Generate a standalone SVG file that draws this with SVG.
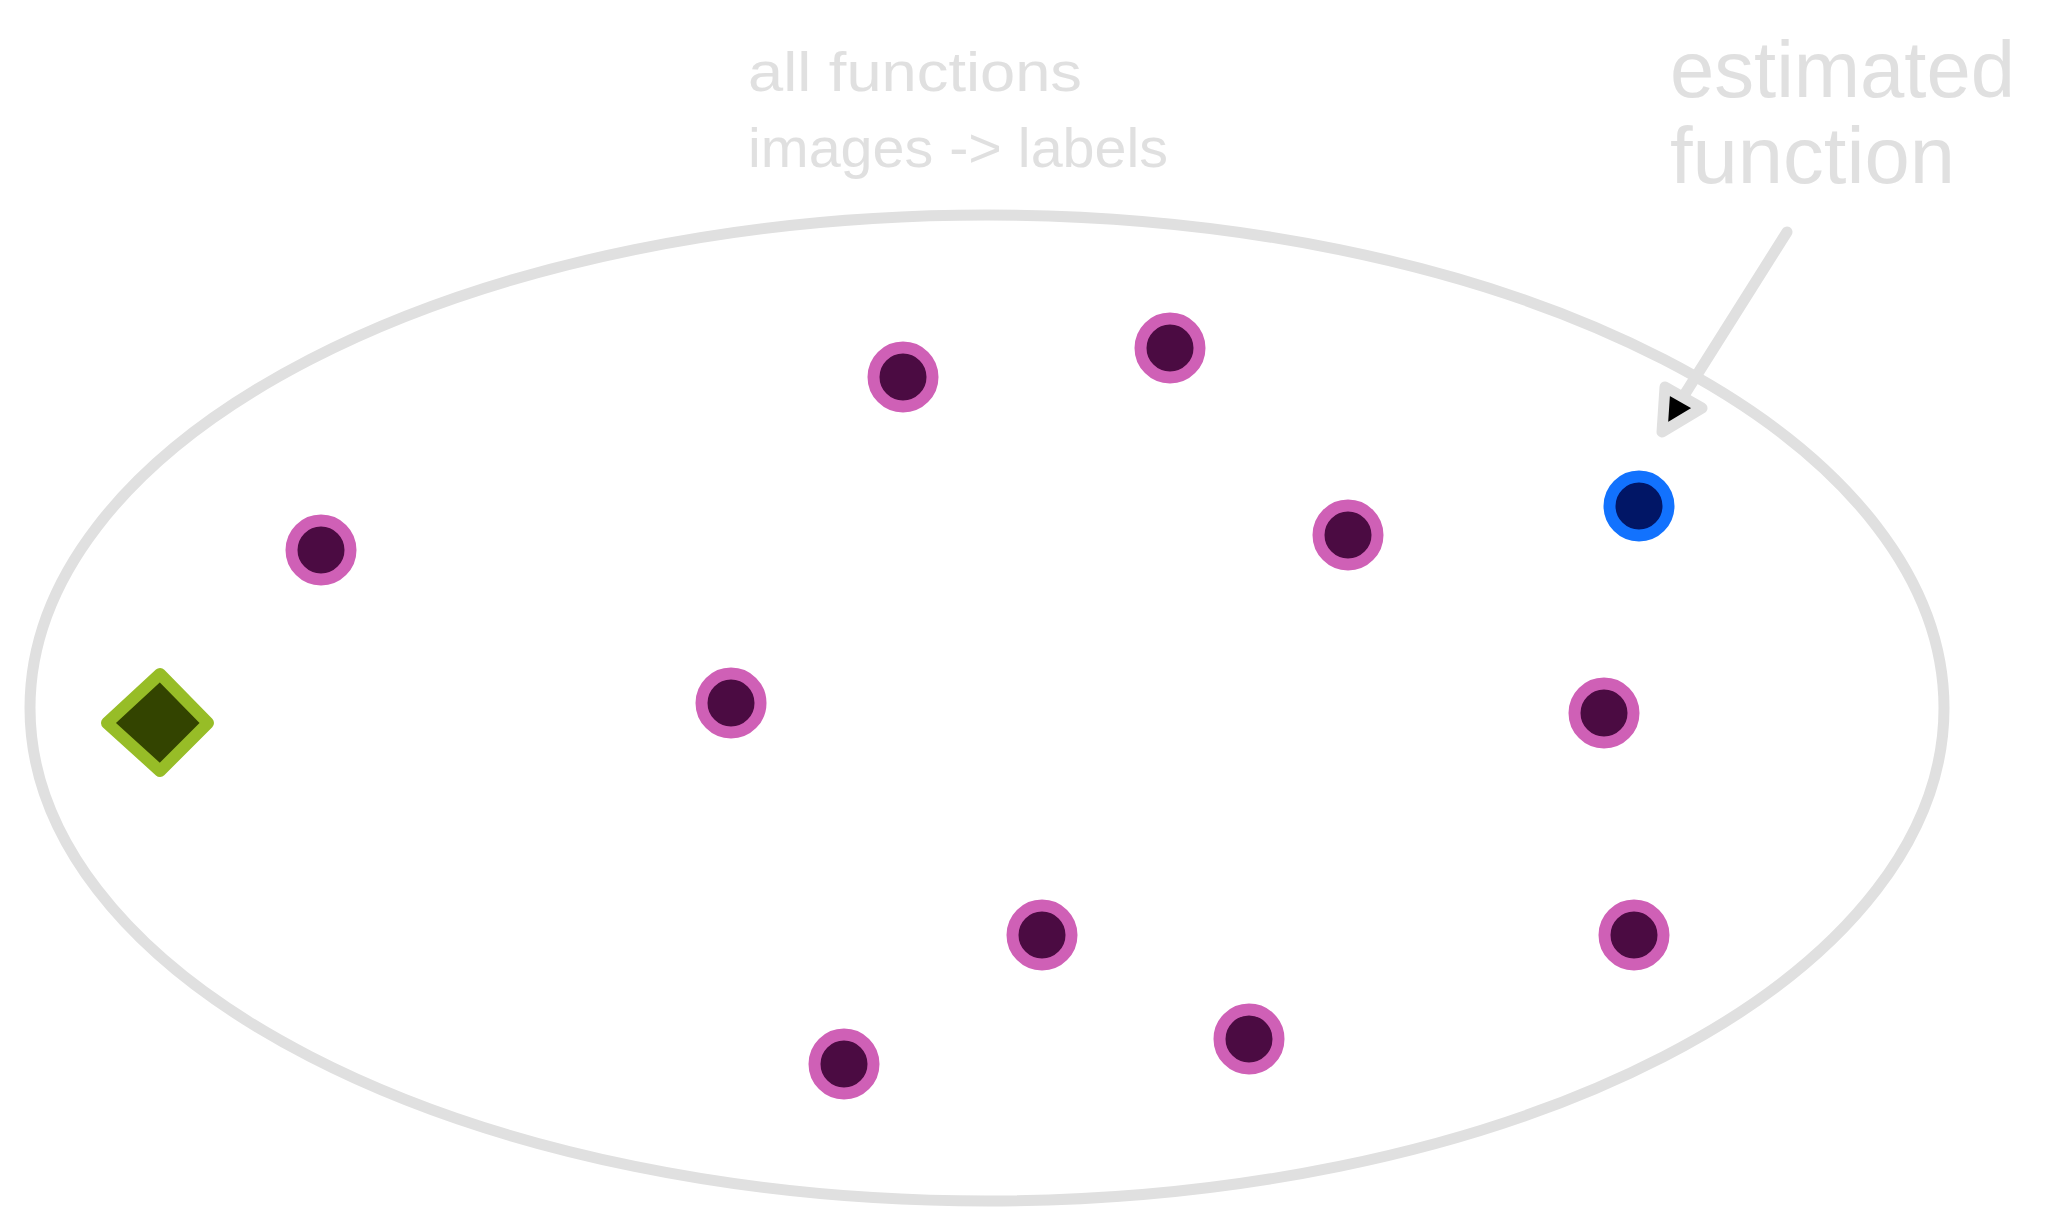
<svg xmlns="http://www.w3.org/2000/svg" width="2046" height="1232" viewBox="0 0 2046 1232">
<style>
.lbl{font-family:"Liberation Sans","DejaVu Sans",sans-serif;fill:#e0e0e0}
.pt{fill:#4b0b42;stroke:#cf60b6;stroke-width:12}
.est{fill:#011666;stroke:#1272fe;stroke-width:12}
.gray{fill:none;stroke:#e0e0e0;stroke-width:11;stroke-linecap:round;stroke-linejoin:round}
</style>
<rect width="2046" height="1232" fill="#ffffff"/>
<g id="space">
<ellipse cx="987" cy="708" rx="957" ry="493" class="gray"/>
</g>
<g id="label-all">
<text class="lbl" x="748" y="91" font-size="56" textLength="334" lengthAdjust="spacingAndGlyphs">all functions</text>
<text class="lbl" x="748" y="167" font-size="56" textLength="420" lengthAdjust="spacingAndGlyphs">images -&gt; labels</text>
</g>
<g id="label-estimated">
<text class="lbl" x="1670" y="97" font-size="80" textLength="345" lengthAdjust="spacingAndGlyphs">estimated</text>
<text class="lbl" x="1670" y="183" font-size="80" textLength="285" lengthAdjust="spacingAndGlyphs">function</text>
</g>
<g id="target">
<path d="M160 674 L208 723 L160 771 L107 723 Z" fill="#334400" stroke="#97bd27" stroke-width="12" stroke-linejoin="round"/>
</g>
<g id="p1"><circle cx="903" cy="377" r="29.5" class="pt"/></g>
<g id="p2"><circle cx="1170" cy="348" r="29.5" class="pt"/></g>
<g id="p3"><circle cx="321" cy="550" r="29.5" class="pt"/></g>
<g id="p4"><circle cx="1348" cy="535" r="29.5" class="pt"/></g>
<g id="p5"><circle cx="731" cy="703" r="29.5" class="pt"/></g>
<g id="p6"><circle cx="1604" cy="713" r="29.5" class="pt"/></g>
<g id="p7"><circle cx="1042" cy="935" r="29.5" class="pt"/></g>
<g id="p8"><circle cx="1634" cy="935" r="29.5" class="pt"/></g>
<g id="p9"><circle cx="844" cy="1064" r="29.5" class="pt"/></g>
<g id="p10"><circle cx="1249" cy="1039" r="29.5" class="pt"/></g>
<g id="estimate"><circle cx="1639" cy="506" r="29.5" class="est"/></g>
<g id="connectors">
<path d="M1787 232 L1683 397" class="gray"/>
<path d="M1665 387 L1702 408 L1662 432 Z" fill="#000000" stroke="#e0e0e0" stroke-width="11" stroke-linejoin="round"/>
</g>
</svg>
